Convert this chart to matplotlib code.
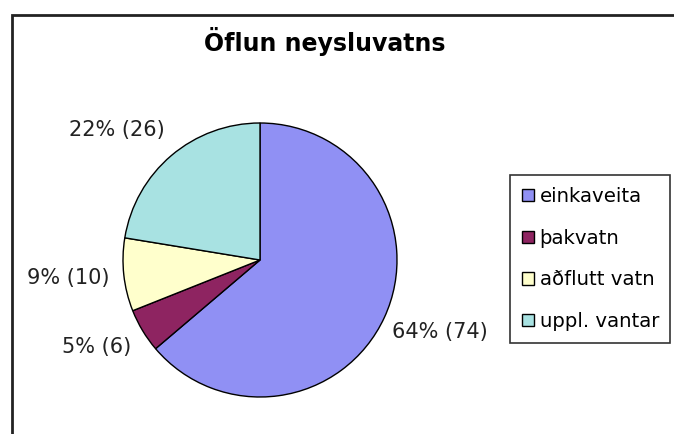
import matplotlib.pyplot as plt
from matplotlib.patches import Rectangle, Patch

plt.rcParams['font.family'] = ['DejaVu Sans']

categories = ["einkaveita", "þakvatn", "aðflutt vatn", "uppl. vantar"]
counts = [74, 6, 10, 26]
colors = ["#9090F4", "#8E2461", "#FFFFCC", "#A8E2E2"]

W, H = 674, 434
# label centres in pixels from the top-left corner
label_xy = [(440, 332), (97, 347), (68, 278), (117, 130)]

fig = plt.figure(figsize=(W / 100, H / 100), dpi=100)
ax = fig.add_axes([0, 0, 1, 1])

# outer chart frame (runs off right and bottom edges)
ax.add_patch(Rectangle((12, -10), W, H - 15 + 10, fill=False,
                       edgecolor="#222222", linewidth=2))

cx, cy, r = 260, H - 260, 137
wedges, _ = ax.pie(counts, colors=colors, startangle=90, counterclock=False,
                   center=(cx, cy), radius=r, frame=True,
                   wedgeprops=dict(edgecolor="black", linewidth=1))
ax.set_xlim(0, W)
ax.set_ylim(0, H)
ax.set_aspect("equal")
ax.axis("off")

total = sum(counts)
for (x, y), n in zip(label_xy, counts):
    ax.text(x, H - y, f"{round(100 * n / total)}% ({n})", ha="center",
            va="center", fontsize=15, color="#222222")

ax.text(325, H - 42, "Öflun neysluvatns", ha="center", va="center",
        fontsize=17, fontweight="bold")

handles = [Patch(facecolor=c, edgecolor="black", linewidth=1) for c in colors]
leg = fig.legend(handles, categories, loc="lower left",
                 bbox_to_anchor=(510 / W, 91 / H, 160 / W, 170 / H),
                 mode="expand", fontsize=14.2, frameon=True, fancybox=False,
                 handlelength=0.6, handleheight=0.6, handletextpad=0.3,
                 labelspacing=1.15, borderpad=0.6, borderaxespad=0)
leg.get_frame().set_edgecolor("black")
leg.get_frame().set_linewidth(1.2)

fig.savefig("out.png", dpi=100)
